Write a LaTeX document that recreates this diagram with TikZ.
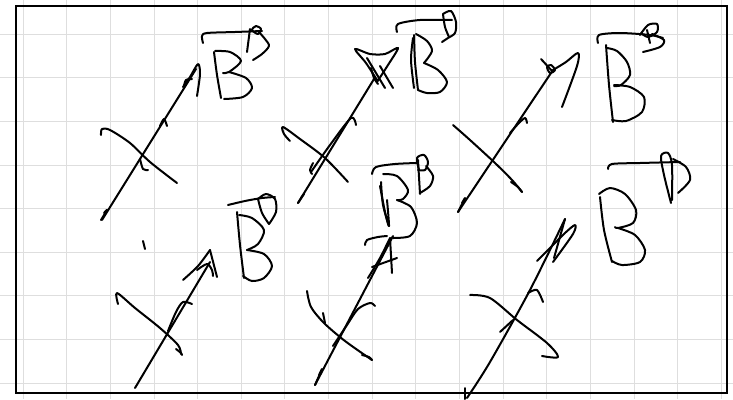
\documentclass[tikz,border=0pt]{standalone}
\begin{document}
\begin{tikzpicture}[x=1pt,y=-1pt,
  ink/.style={line width=2pt, line cap=round, line join=round, black},
  gridline/.style={line width=0.9pt, black!13},
  framebox/.style={line width=2.4pt, black}]
\useasboundingbox (0,0) rectangle (733,399);
\fill[white] (0,0) rectangle (733,399);
% grid
\foreach \k in {0,...,16} {\draw[gridline] ({23+43.65*\k},0) -- ({23+43.65*\k},399);}
\foreach \k in {0,...,8} {\draw[gridline] (0,{34+43.65*\k}) -- (733,{34+43.65*\k});}
% frame
\draw[framebox] (16,6) rectangle (727,393);

% ===== cluster 1 (top left)
\draw[ink] (102,220) -- (196,69);
\draw[ink] plot[smooth] coordinates {(101,220) (107,210) (104,213)};
\draw[ink] plot[smooth] coordinates {(183,87) (190,77) (198,64) (200,74) (197,96)};
\draw[ink] plot[smooth] coordinates {(184,86) (186,80) (192,79)};
\draw[ink] plot[smooth] coordinates {(160,126) (164,119) (167,126)};
\draw[ink] plot[smooth] coordinates {(101,135) (102,129) (110,130) (130,143) (150,162) (177,183)};
\draw[ink] plot[smooth] coordinates {(140,159) (143,169) (148,170)};
% B1
\draw[ink] plot[smooth] coordinates {(214,52) (217,75) (221,98)};
\draw[ink] plot[smooth] coordinates {(215,51) (230,52) (241,61) (229,72) (223,73)};
\draw[ink] plot[smooth] coordinates {(229,72) (246,78) (252,88) (243,97) (224,99)};
\draw[ink] plot[smooth] coordinates {(203,43) (202,36) (207,33) (235,32) (262,31)};
\draw[ink] (250,29) -- (247,52);
\draw[ink] plot[smooth cycle] coordinates {(252,30) (256,26) (261,29) (258,34)};
\draw[ink] plot[smooth] coordinates {(258,31) (265,39) (269,46) (262,54) (253,60)};

% ===== cluster 2 (top middle)
\draw[ink] (298,203) -- (374,79);
\draw[ink] plot[smooth] coordinates {(298,203) (304,194) (301,198)};
\draw[ink] plot[smooth] coordinates {(311,172) (330,145) (351,118) (356,125)};
\draw[ink] plot[smooth] coordinates {(377,80) (366,63) (355,49) (370,54) (385,54) (398,48) (388,65) (377,82)};
\draw[ink] (367,58) -- (385,88);
\draw[ink] (380,66) -- (393,88);
\draw[ink] plot[smooth] coordinates {(371,68) (374,78) (378,84)};
\draw[ink] plot[smooth] coordinates {(290,141) (284,134) (283,127) (300,139) (325,158) (348,182)};
\draw[ink] plot[smooth] coordinates {(313,163) (310,170) (312,174)};
% B2
\draw[ink] plot[smooth] coordinates {(414,35) (415,62) (418,90)};
\draw[ink] plot[smooth] coordinates {(413,38) (411,60) (414,88)};
\draw[ink] plot[smooth] coordinates {(416,34) (427,41) (432,51) (424,63)};
\draw[ink] plot[smooth] coordinates {(424,63) (438,70) (447,82) (440,92) (427,93) (418,90)};
\draw[ink] plot[smooth] coordinates {(397,32) (398,24) (420,20) (452,20)};
\draw[ink] plot[smooth] coordinates {(443,14) (451,11) (456,22) (455,33) (448,38) (442,42)};
\draw[ink] plot[smooth] coordinates {(443,14) (445,27) (449,37)};

% ===== cluster 3 (top right)
\draw[ink] (458,212) -- (553,70);
\draw[ink] plot[smooth] coordinates {(458,212) (465,198) (462,203)};
\draw[ink] (541,59) -- (553,72);
\draw[ink] plot[smooth cycle] coordinates {(547,67) (551,65) (555,70) (550,73)};
\draw[ink] plot[smooth] coordinates {(553,70) (566,62) (578,53) (577,66) (562,107)};
\draw[ink] plot[smooth] coordinates {(510,133) (518,124) (525,118) (527,123)};
\draw[ink] plot[smooth] coordinates {(453,125) (470,140) (495,163) (512,180) (522,192)};
\draw[ink] plot[smooth] coordinates {(511,182) (518,187) (522,192)};
% B3
\draw[ink] plot[smooth] coordinates {(606,45) (609,85) (613,122)};
\draw[ink] plot[smooth] coordinates {(607,48) (617,51) (627,62) (630,75) (621,85) (614,86)};
\draw[ink] plot[smooth] coordinates {(614,85) (630,87) (644,97) (642,112) (626,121) (612,120)};
\draw[ink] plot[smooth] coordinates {(598,43) (599,35) (620,33) (650,35) (663,38)};
\draw[ink] plot[smooth] coordinates {(640,35) (648,25) (657,24) (657,32) (648,37) (641,33)};
\draw[ink] plot[smooth] coordinates {(652,34) (664,40) (660,47) (643,52)};
\draw[ink] (647,30) -- (650,43);

% ===== cluster 4 (bottom left)
\draw[ink] (135,388) -- (210,262);
\draw[ink] plot[smooth] coordinates {(183,280) (198,266) (210,250)};
\draw[ink] (210,250) -- (217,277);
\draw[ink] plot[smooth] coordinates {(197,270) (207,264) (212,270) (213,276)};
\draw[ink] plot[smooth] coordinates {(168,331) (176,312) (183,302) (192,304)};
\draw[ink] plot[smooth] coordinates {(118,304) (117,293) (135,308) (160,328) (178,345) (181,354)};
\draw[ink] plot[smooth] coordinates {(176,349) (181,353) (182,355)};
\draw[ink] (143,241) -- (145,249);
% B4
\draw[ink] plot[smooth] coordinates {(237,212) (240,245) (244,278)};
\draw[ink] plot[smooth] coordinates {(239,215) (252,218) (264,230) (258,244) (247,250)};
\draw[ink] plot[smooth] coordinates {(247,250) (264,254) (272,266) (264,278) (252,281) (243,276)};
\draw[ink] plot[smooth] coordinates {(228,205) (245,201) (262,198) (275,197)};
\draw[ink] plot[smooth] coordinates {(258,199) (266,194) (275,199) (276,212) (269,224)};
\draw[ink] plot[smooth] coordinates {(258,199) (262,213) (269,224)};

% ===== cluster 5 (bottom middle)
\draw[ink] (315,385) -- (393,236);
\draw[ink] plot[smooth] coordinates {(315,385) (322,369) (319,375)};
\draw[ink] plot[smooth] coordinates {(368,278) (380,258) (390,238)};
\draw[ink] (390,238) -- (392,273);
\draw[ink] (372,267) -- (397,258);
\draw[ink] plot[smooth] coordinates {(333,346) (347,325) (358,309) (370,303) (375,306)};
\draw[ink] plot[smooth] coordinates {(307,291) (311,307) (324,323) (345,341) (372,360)};
\draw[ink] plot[smooth] coordinates {(362,355) (369,357) (372,360)};
\draw[ink] (323,313) -- (325,323);
\draw[ink] plot[smooth] coordinates {(365,245) (367,240) (378,237) (387,236)};
% B5
\draw[ink] plot[smooth] coordinates {(381,182) (383,205) (389,226)};
\draw[ink] plot[smooth] coordinates {(380,186) (385,212) (389,226) (387,200)};
\draw[ink] plot[smooth] coordinates {(383,174) (397,176) (408,190) (403,199) (397,200)};
\draw[ink] plot[smooth] coordinates {(397,200) (411,207) (417,223) (410,236) (393,238)};
\draw[ink] plot[smooth] coordinates {(372,174) (376,167) (395,164) (417,163)};
\draw[ink] plot[smooth] coordinates {(419,170) (417,158) (424,155) (428,162) (425,170) (418,170)};
\draw[ink] plot[smooth] coordinates {(426,166) (433,176) (430,186) (420,193)};
\draw[ink] (418,160) -- (420,194);

% ===== cluster 6 (bottom right)
\draw[ink] plot[smooth] coordinates {(467,398) (490,362) (530,290) (565,219)};
\draw[ink] (465,388) -- (465,399);
\draw[ink] plot[smooth] coordinates {(537,261) (550,248) (565,233) (575,225) (573,234) (553,262)};
\draw[ink] (565,219) -- (554,258);
\draw[ink] plot[smooth] coordinates {(528,293) (537,290) (543,302)};
\draw[ink] plot[smooth] coordinates {(470,295) (490,298) (517,320) (547,343) (558,357) (542,356)};
\draw[ink] (500,332) -- (513,320);
% B6
\draw[ink] plot[smooth] coordinates {(600,197) (604,230) (612,262)};
\draw[ink] plot[smooth] coordinates {(599,194) (610,188) (625,194) (636,210) (633,223) (618,228) (615,227)};
\draw[ink] plot[smooth] coordinates {(618,228) (635,235) (645,250) (640,262) (622,265) (612,261)};
\draw[ink] plot[smooth] coordinates {(608,169) (612,164) (640,163) (680,162)};
\draw[ink] plot[smooth] coordinates {(671,203) (664,175) (661,156) (668,153) (672,165) (672,200)};
\draw[ink] plot[smooth] coordinates {(673,159) (686,167) (690,180) (678,193)};
\end{tikzpicture}
\end{document}
